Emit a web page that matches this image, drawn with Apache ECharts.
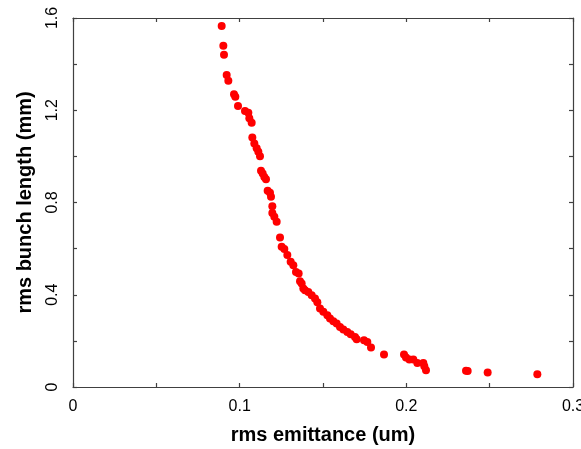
<!DOCTYPE html>
<html>
<head>
<meta charset="utf-8">
<script src="https://cdn.jsdelivr.net/npm/echarts@6/dist/echarts.min.js"></script>
<style>html,body{margin:0;padding:0;background:#fff;}#c{width:581px;height:449px;}</style>
</head>
<body>
<div id="c"></div>
<script>
var emittance = [0.0892,0.0902,0.0906,0.0922,0.0932,0.0966,0.0974,0.0990,0.1032,0.1052,0.1058,0.1072,0.1076,0.1088,0.1102,0.1112,0.1122,0.1128,0.1138,0.1148,0.1158,0.1168,0.1182,0.1188,0.1196,0.1196,0.1208,0.1222,0.1242,0.1252,0.1268,0.1286,0.1306,0.1322,0.1338,0.1354,0.1362,0.1372,0.1382,0.1392,0.1412,0.1432,0.1452,0.1466,0.1482,0.1502,0.1526,0.1542,0.1562,0.1582,0.1602,0.1622,0.1646,0.1666,0.1692,0.1702,0.1746,0.1766,0.1788,0.1866,0.1986,0.1998,0.2018,0.2042,0.2066,0.2102,0.2108,0.2118,0.2358,0.2368,0.2488,0.2786];
var bunchLength = [1.565,1.480,1.441,1.353,1.328,1.269,1.259,1.218,1.197,1.189,1.165,1.146,1.082,1.056,1.035,1.020,1.001,0.9375,0.926,0.911,0.901,0.851,0.842,0.825,0.784,0.755,0.738,0.716,0.648,0.608,0.598,0.572,0.543,0.528,0.499,0.492,0.459,0.449,0.427,0.420,0.412,0.398,0.384,0.367,0.340,0.326,0.311,0.297,0.285,0.275,0.260,0.249,0.239,0.229,0.217,0.207,0.203,0.195,0.171,0.141,0.141,0.128,0.119,0.119,0.104,0.104,0.090,0.073,0.071,0.069,0.063,0.055];
var xTicks = {min: 0, max: 0.3, interval: 0.05};
var yTicks = {min: 0, max: 1.6, interval: 0.2};
var xLabels = ['0', '0.1', '0.2', '0.3'];
var yLabels = ['0', '0.4', '0.8', '1.2', '1.6'];

var pts = emittance.map(function(x, i){ return [x, bunchLength[i]]; });
var font = '"Liberation Sans", Arial, sans-serif';
var lineStyle = {color: '#404040', width: 1.2};
function pick(list, digits){
  return function(v){
    var s = String(Math.round(v * Math.pow(10, digits)) / Math.pow(10, digits));
    return list.indexOf(s) >= 0 ? s : '';
  };
}
var chart = echarts.init(document.getElementById('c'), null, {renderer: 'canvas'});
chart.setOption({
  animation: false,
  backgroundColor: '#ffffff',
  grid: {left: 73, top: 18, right: 8, bottom: 62, containLabel: false, outerBoundsMode: 'none'},
  xAxis: [{
    type: 'value', position: 'bottom',
    min: xTicks.min, max: xTicks.max, interval: xTicks.interval,
    name: 'rms emittance (um)', nameLocation: 'middle', nameGap: 38,
    nameTextStyle: {fontFamily: font, fontWeight: 'bold', fontSize: 20, color: '#000'},
    axisLine: {show: true, onZero: false, lineStyle: lineStyle},
    axisTick: {show: true, inside: true, length: 4, lineStyle: lineStyle},
    axisLabel: {margin: 12, fontFamily: font, fontSize: 16, color: '#000', formatter: pick(xLabels, 2)},
    splitLine: {show: false}
  }, {
    type: 'value', position: 'top',
    min: xTicks.min, max: xTicks.max, interval: xTicks.interval,
    axisLine: {show: true, onZero: false, lineStyle: lineStyle},
    axisTick: {show: true, inside: true, length: 4, lineStyle: lineStyle},
    axisLabel: {show: false},
    splitLine: {show: false}
  }],
  yAxis: [{
    type: 'value', position: 'left',
    min: yTicks.min, max: yTicks.max, interval: yTicks.interval,
    name: 'rms bunch length (mm)', nameLocation: 'middle', nameGap: 38, nameRotate: 90,
    nameTextStyle: {fontFamily: font, fontWeight: 'bold', fontSize: 20, color: '#000'},
    axisLine: {show: true, onZero: false, lineStyle: lineStyle},
    axisTick: {show: true, inside: true, length: 4, lineStyle: lineStyle},
    axisLabel: {rotate: 90, margin: 12, fontFamily: font, fontSize: 16, color: '#000', formatter: pick(yLabels, 1)},
    splitLine: {show: false}
  }, {
    type: 'value', position: 'right',
    min: yTicks.min, max: yTicks.max, interval: yTicks.interval,
    axisLine: {show: true, onZero: false, lineStyle: lineStyle},
    axisTick: {show: true, inside: true, length: 4, lineStyle: lineStyle},
    axisLabel: {show: false},
    splitLine: {show: false}
  }],
  series: [{
    type: 'scatter',
    xAxisIndex: 0, yAxisIndex: 0,
    data: pts,
    symbol: 'circle',
    symbolSize: 8,
    itemStyle: {color: '#ff0000', opacity: 1}
  }]
});
</script>
</body>
</html>
